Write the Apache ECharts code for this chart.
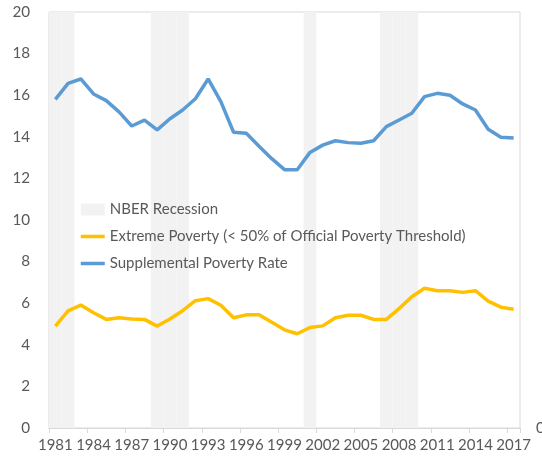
<!DOCTYPE html>
<html>
<head>
<meta charset="utf-8">
<script src="https://cdn.jsdelivr.net/npm/echarts@6/dist/echarts.min.js"></script>
<style>
html,body{margin:0;padding:0;background:#fff;}
#chart{width:542px;height:460px;}
</style>
</head>
<body>
<div id="chart"></div>
<script>
var years = [1981,1982,1983,1984,1985,1986,1987,1988,1989,1990,1991,1992,1993,1994,1995,1996,1997,1998,1999,2000,2001,2002,2003,2004,2005,2006,2007,2008,2009,2010,2011,2012,2013,2014,2015,2016,2017];
var recession = [1,1,0,0,0,0,0,0,1,1,1,0,0,0,0,0,0,0,0,0,1,0,0,0,0,0,1,1,1,0,0,0,0,0,0,0,0];
var extremePoverty = [4.9,5.63,5.91,5.54,5.22,5.3,5.24,5.22,4.9,5.24,5.64,6.12,6.22,5.9,5.3,5.44,5.44,5.08,4.72,4.53,4.83,4.91,5.3,5.42,5.42,5.22,5.22,5.74,6.31,6.72,6.6,6.6,6.52,6.6,6.1,5.81,5.71];
var supplementalPoverty = [15.8,16.57,16.78,16.06,15.74,15.2,14.52,14.8,14.33,14.87,15.29,15.83,16.78,15.69,14.22,14.17,13.55,12.95,12.42,12.42,13.25,13.6,13.81,13.72,13.69,13.81,14.49,14.81,15.13,15.93,16.09,16.0,15.58,15.29,14.36,13.98,13.94];
var yTicks = [0,2,4,6,8,10,12,14,16,18,20];

var font = 'Lato, Liberation Sans, Arial, sans-serif';
var chart = echarts.init(document.getElementById('chart'), null, {renderer:'canvas'});
chart.setOption({
  animation:false,
  backgroundColor:'#ffffff',
  grid:{left:49,right:22,top:12,bottom:32,show:true,borderColor:'#d9d9d9',borderWidth:1,containLabel:false,outerBoundsMode:'none'},
  legend:{
    orient:'vertical', left:74, top:197, itemGap:12, itemWidth:24, itemHeight:12,
    textStyle:{color:'#595959',fontSize:15,fontFamily:font},
    lineStyle:{width:3.5},
    data:[
      {name:'NBER Recession',icon:'rect'},
      {name:'Extreme Poverty (< 50% of Official Poverty Threshold)',itemStyle:{opacity:0}},
      {name:'Supplemental Poverty Rate',itemStyle:{opacity:0}}
    ]
  },
  xAxis:{
    type:'category', data:years, boundaryGap:true,
    axisLine:{show:true,lineStyle:{color:'#d9d9d9'}},
    axisTick:{show:true,interval:2,length:5,lineStyle:{color:'#d9d9d9'}},
    axisLabel:{interval:2,color:'#595959',fontSize:15,fontFamily:font,margin:10}
  },
  yAxis:[{
    type:'value', min:yTicks[0], max:yTicks[yTicks.length-1], interval:2,
    axisLine:{show:false}, axisTick:{show:false}, splitLine:{show:false},
    axisLabel:{color:'#595959',fontSize:15.2,fontFamily:font,margin:19}
  },{
    type:'value', min:0, max:1, interval:1, position:'right',
    axisLine:{show:false}, axisTick:{show:false}, splitLine:{show:false},
    axisLabel:{color:'#595959',fontSize:15.2,fontFamily:font,margin:16,formatter:function(v){return v===0?'0':'';}}
  }],
  series:[
    {name:'NBER Recession',type:'bar',yAxisIndex:1,data:recession,barCategoryGap:'0%',barWidth:'100%',itemStyle:{color:'#f2f2f2'},z:1,silent:true},
    {name:'Extreme Poverty (< 50% of Official Poverty Threshold)',type:'line',data:extremePoverty,symbol:'none',lineStyle:{color:'#ffc000',width:3.5},itemStyle:{color:'#ffc000'},z:3},
    {name:'Supplemental Poverty Rate',type:'line',data:supplementalPoverty,symbol:'none',lineStyle:{color:'#5b9bd5',width:3.5},itemStyle:{color:'#5b9bd5'},z:3}
  ]
});
</script>
</body>
</html>
